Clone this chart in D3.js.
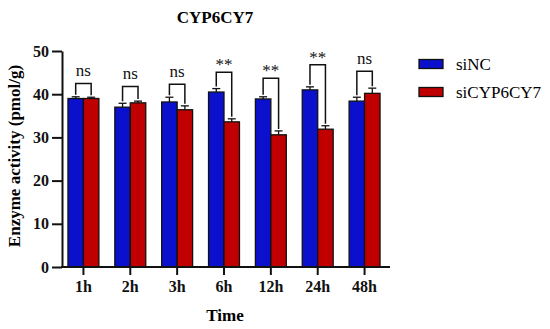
<!DOCTYPE html>
<html>
<head>
<meta charset="utf-8">
<script src="https://cdn.jsdelivr.net/npm/d3@7"></script>
<style>
  body { margin: 0; background: #fff; }
  text { font-family: "Liberation Serif", "Times New Roman", serif; }
</style>
</head>
<body>
<svg width="550" height="329"></svg>
<script>
// data
const times = ['1h', '2h', '3h', '6h', '12h', '24h', '48h'];
const groups = ['siNC', 'siCYP6CY7'];
const siNC = [39.0, 37.0, 38.2, 40.5, 38.9, 41.0, 38.4];
const siNCErr = [0.4, 0.9, 1.1, 0.8, 0.5, 0.7, 0.9];
const siCYP = [39.0, 38.0, 36.4, 33.6, 30.6, 31.9, 40.2];
const siCYPErr = [0.3, 0.4, 0.9, 0.7, 0.9, 0.8, 1.2];
const sig = ['ns', 'ns', 'ns', '**', '**', '**', 'ns'];
const bracketTop = [42.5, 41.8, 42.3, 45.1, 43.7, 46.8, 45.3];
const yTicks = [0, 10, 20, 30, 40, 50];

const colors = { siNC: '#0a10cc', siCYP6CY7: '#c00000' };

const svg = d3.select('svg');

const y = d3.scaleLinear().domain([0, 50]).range([267, 51]);
const x0 = d3.scaleBand().domain(times).range([60, 388])
  .paddingInner(0.34).paddingOuter(0.17);
const x1 = d3.scaleBand().domain(groups).range([0, x0.bandwidth()]);

const rows = times.map((t, i) => ({
  t: t,
  sig: sig[i],
  top: bracketTop[i],
  bars: [
    { g: 'siNC', v: siNC[i], e: siNCErr[i] },
    { g: 'siCYP6CY7', v: siCYP[i], e: siCYPErr[i] }
  ]
}));

// bars
var grp = svg.append('g').selectAll('g')
  .data(rows)
  .enter().append('g')
  .attr('transform', d => 'translate(' + x0(d.t) + ',0)');

grp.selectAll('rect')
  .data(d => d.bars)
  .enter().append('rect')
  .attr('x', d => x1(d.g))
  .attr('y', d => y(d.v))
  .attr('width', x1.bandwidth())
  .attr('height', d => y(0) - y(d.v))
  .attr('fill', d => colors[d.g])
  .attr('stroke', '#111')
  .attr('stroke-width', 1.3);

// error bars (upper half only)
var err = grp.selectAll('g.err')
  .data(d => d.bars)
  .enter().append('g')
  .attr('class', 'err')
  .attr('stroke', '#111')
  .attr('stroke-width', 1.3);

err.append('line')
  .attr('x1', d => x1(d.g) + x1.bandwidth() / 2)
  .attr('x2', d => x1(d.g) + x1.bandwidth() / 2)
  .attr('y1', d => y(d.v))
  .attr('y2', d => y(d.v + d.e));
err.append('line')
  .attr('x1', d => x1(d.g) + x1.bandwidth() / 2 - 4)
  .attr('x2', d => x1(d.g) + x1.bandwidth() / 2 + 4)
  .attr('y1', d => y(d.v + d.e))
  .attr('y2', d => y(d.v + d.e));

// significance brackets
grp.append('path')
  .attr('fill', 'none')
  .attr('stroke', '#111')
  .attr('stroke-width', 1.5)
  .attr('d', d => {
    var a = d.bars[0], b = d.bars[1];
    var xa = x1(a.g) + x1.bandwidth() / 2, xb = x1(b.g) + x1.bandwidth() / 2;
    return 'M' + xa + ',' + (y(a.v + a.e) - 2) +
      'V' + y(d.top) + 'H' + xb + 'V' + (y(b.v + b.e) - 2);
  });

grp.append('text')
  .attr('x', x0.bandwidth() / 2)
  .attr('y', d => d.sig == 'ns' ? y(d.top) - 7 : y(d.top) - 2)
  .attr('text-anchor', 'middle')
  .attr('font-size', 17)
  .attr('fill', '#111')
  .text(d => d.sig);

// axes
var yAxis = svg.append('g')
  .attr('transform', 'translate(62,0)')
  .call(d3.axisLeft(y).tickValues(yTicks).tickSize(10).tickSizeOuter(0).tickPadding(3));

var xAxis = svg.append('g')
  .attr('transform', 'translate(0,267)')
  .call(d3.axisBottom(x0).tickSize(8).tickSizeOuter(0).tickPadding(6));

xAxis.select('.domain').attr('d', 'M61,0H390');

svg.selectAll('.domain, .tick line')
  .attr('stroke', '#111')
  .attr('stroke-width', 2);

yAxis.selectAll('text')
  .attr('font-size', 16).attr('font-weight', 'bold').attr('fill', '#111')
  .style('font-family', '"Liberation Serif", serif');
xAxis.selectAll('text')
  .attr('font-size', 16).attr('font-weight', 'bold').attr('fill', '#111')
  .style('font-family', '"Liberation Serif", serif');

// titles
svg.append('text')
  .attr('x', 215).attr('y', 23)
  .attr('text-anchor', 'middle')
  .attr('font-size', 17).attr('font-weight', 'bold')
  .text('CYP6CY7');

svg.append('text')
  .attr('transform', 'translate(20,156) rotate(-90)')
  .attr('text-anchor', 'middle')
  .attr('font-size', 17).attr('font-weight', 'bold')
  .text('Enzyme activity (pmol/g)');

svg.append('text')
  .attr('x', 225).attr('y', 321)
  .attr('text-anchor', 'middle')
  .attr('font-size', 17).attr('font-weight', 'bold')
  .text('Time');

// legend
var leg = svg.append('g').selectAll('g')
  .data(groups)
  .enter().append('g')
  .attr('transform', (d, i) => 'translate(419,' + (64 + i * 28) + ')');

leg.append('rect')
  .attr('x', 0).attr('y', -4.5)
  .attr('width', 24).attr('height', 9)
  .attr('fill', d => colors[d])
  .attr('stroke', '#111')
  .attr('stroke-width', 1.3);

leg.append('text')
  .attr('x', 37).attr('y', 6)
  .attr('font-size', 17)
  .text(d => d);
</script>
</body>
</html>
